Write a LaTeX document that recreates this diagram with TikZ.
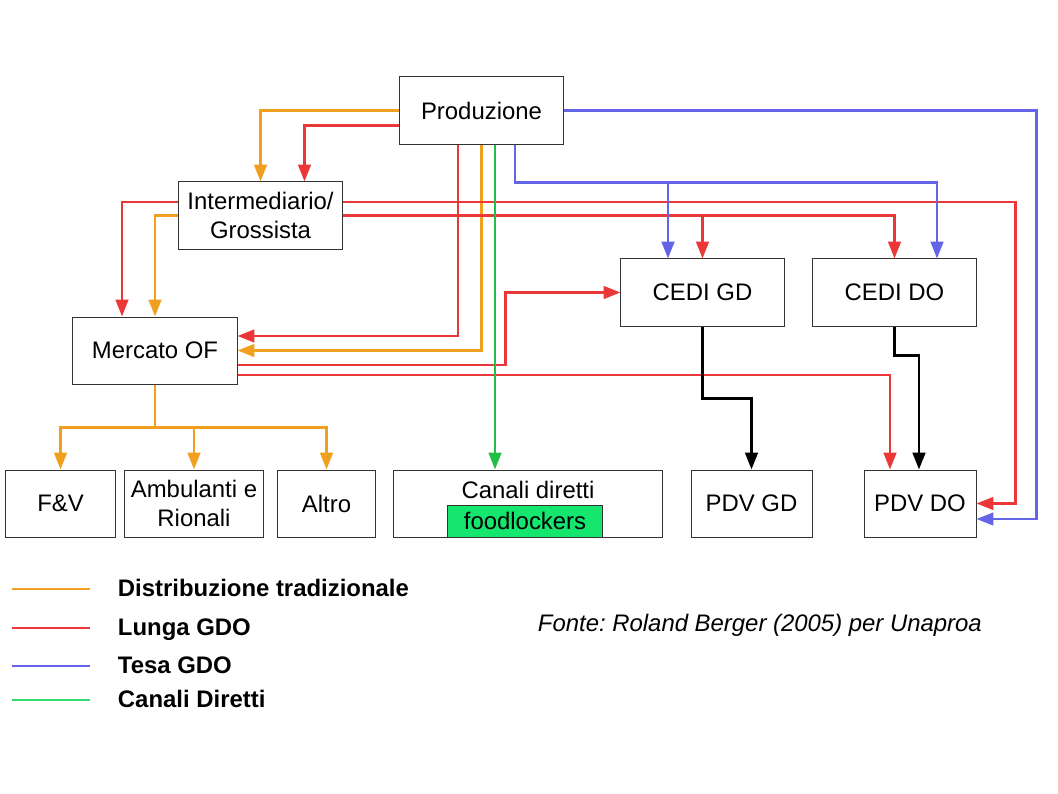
\documentclass[tikz,border=0pt]{standalone}
\usepackage{fontspec}
\setmainfont{Liberation Sans}
\usetikzlibrary{arrows.meta,positioning,calc}

\definecolor{trad}{RGB}{240,160,30}
\definecolor{lunga}{RGB}{235,55,55}
\definecolor{tesa}{RGB}{100,100,230}
\definecolor{diretti}{RGB}{35,190,70}
\definecolor{legdiretti}{RGB}{50,220,110}
\definecolor{locker}{RGB}{20,230,110}

\begin{document}
\frenchspacing
\begin{tikzpicture}[x=0.025cm,y=-0.025cm,->,>={Triangle[length=12pt,width=9pt]},
    font=\fontsize{17}{20}\selectfont]
            \tikzstyle{box}=[draw=black!80, line width=0.7pt, minimum height=1.675cm,
            inner sep=0pt, align=center]
            \tikzstyle{flow}=[line width=1.8pt]
            \useasboundingbox (0,0) rectangle (1058,794);
            %            Produzione
            %   Interm.
            % Mercato          CEDI GD  CEDI DO
            % F&V Amb Altro Canali   PDV GD  PDV DO
            \node[box, minimum width=4.075cm] (prod) at (481.5,110.5) {Produzione};
            \node[box, minimum width=4.075cm] (interm) at (260.5,215.5) {Intermediario/\\Grossista};
            \node[box, minimum width=4.1cm] (merc) at (155,350.5) {Mercato OF};
            \node[box, minimum width=4.075cm] (cedigd) at (702.5,292.5) {CEDI GD};
            \node[box, minimum width=4.075cm] (cedido) at (894.5,292.5) {CEDI DO};
            \node[box, minimum width=2.725cm] (fv) at (60.5,503.5) {F\&V};
            \node[box, minimum width=3.45cm] (amb) at (194,503.5) {Ambulanti e\\Rionali};
            \node[box, minimum width=2.425cm] (altro) at (326.5,503.5) {Altro};
            \node[box, minimum width=6.7cm] (canali) at (528,503.5) {};
            \node (canalitxt) at (528,490) {Canali diretti};
            \node[box, fill=locker, minimum width=3.85cm, minimum height=0.8cm] (locker) at (525,521) {foodlockers};
            \node[box, minimum width=3.025cm] (pdvgd) at (751.5,503.5) {PDV GD};
            \node[box, minimum width=2.8cm] (pdvdo) at (920,503.5) {PDV DO};

            % distribuzione tradizionale
            \draw[flow, trad] (prod.west) -| (interm.north);
            \draw[flow, trad] (interm.west) -| (merc.north);
            \draw[flow, trad] (prod.south) |- (merc.east);
            \draw[flow, trad, -] (merc.south) -- ++(0,43) coordinate (split);
            \draw[flow, trad] (split) -| (fv.north);
            \draw[flow, trad] (split) -| (amb.north);
            \draw[flow, trad] (split) -| (altro.north);

            % lunga GDO
            \draw[flow, lunga] ($(prod.west)+(0,15)$) -| ($(interm.north)+(44,0)$);
            \draw[flow, lunga] ($(interm.west)+(0,-13.5)$) -| ($(merc.north)+(-33,0)$);
            \draw[flow, lunga] ($(prod.south)+(-23.5,0)$) |- ($(merc.east)+(0,-14.5)$);
            \draw[flow, lunga] ($(interm.east)+(0,-13.5)$) -- ++(673,0) |- (pdvdo.east);
            \draw[flow, lunga] (interm.east) -| (cedido.north);
            \draw[flow, lunga] (cedigd.north |- interm.east) -- (cedigd.north);
            \draw[flow, lunga] ($(merc.east)+(0,14.5)$) -- ++(268,0) |- (cedigd.west);
            \draw[flow, lunga] ($(merc.east)+(0,24.5)$) -| ($(pdvdo.north)+(-30,0)$);

            % tesa GDO
            \draw[flow, tesa] ($(prod.south)+(33.5,0)$) -- ++(0,38) -| ($(cedido.north)+(42.5,0)$);
            \draw[flow, tesa] ($(cedigd.north)+(-34.5,-77)$) -- ($(cedigd.north)+(-34.5,0)$);
            \draw[flow, tesa] (prod.east) -- ++(473,0) |- ($(pdvdo.east)+(0,15.5)$);

            % canali diretti
            \draw[flow, diretti] ($(prod.south)+(13.5,0)$) coordinate (g) -- (g |- canali.north);

            % CEDI -> PDV
            \draw[flow, black] (cedigd.south) -- ++(0,72) -| (pdvgd.north);
            \draw[flow, black] (cedido.south) -- ++(0,29) -| ($(pdvdo.north)+(-1,0)$);

            % legenda
            \foreach \c/\t/\y in {trad/Distribuzione tradizionale/589,
                                  lunga/Lunga GDO/628,
                                  tesa/Tesa GDO/666,
                                  legdiretti/Canali Diretti/700}{
                \coordinate (l\y) at (12,\y);
                \draw[flow, \c, -] (l\y) -- ++(78,0) node[right=19pt, text=black, text height=11pt, text depth=0pt,
                    inner sep=0pt, font=\fontsize{17}{20}\selectfont\bfseries] {\t};
            }
            \node[anchor=west, font=\fontsize{17}{20}\selectfont\itshape] (fonte) at (533,625) {Fonte: Roland Berger (2005) per Unaproa};
\end{tikzpicture}
\end{document}
